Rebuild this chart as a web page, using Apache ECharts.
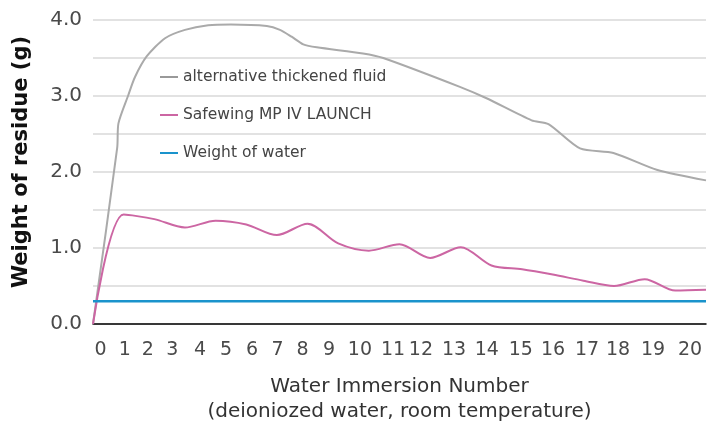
<!DOCTYPE html>
<html>
<head>
<meta charset="utf-8">
<script src="https://cdn.jsdelivr.net/npm/echarts@6/dist/echarts.min.js"></script>
<style>html,body{margin:0;padding:0;background:#fff}#c{width:707px;height:421px}</style>
</head>
<body>
<div id="c"></div>
<script>
// Data
const seriesNames = ['alternative thickened fluid', 'Safewing MP IV LAUNCH', 'Weight of water'];
const altX = [0, 0.79, 0.83, 1.15, 1.37, 1.75, 2.35, 3.0, 3.76, 4.5, 5.67, 6.1, 6.48, 6.86, 7.3, 8.81, 9.47, 11.97, 12.84, 14.31, 14.86, 15.89, 16.98, 18.39, 20];
const altY = [0, 2.32, 2.64, 3.01, 3.25, 3.52, 3.76, 3.87, 3.93, 3.94, 3.92, 3.87, 3.78, 3.68, 3.64, 3.56, 3.50, 3.12, 2.97, 2.68, 2.63, 2.31, 2.25, 2.03, 1.89];
const safeX = [0, 1, 2, 3, 4, 5, 6, 7, 8, 9, 10, 11, 12, 13, 14, 15, 16, 17, 18, 19, 20];
const safeY = [0, 1.44, 1.38, 1.27, 1.36, 1.31, 1.17, 1.32, 1.06, 0.965, 1.05, 0.87, 1.01, 0.77, 0.72, 0.65, 0.57, 0.50, 0.59, 0.44, 0.45];
const waterX = [0, 20];
const waterY = [0.3, 0.3];
const xTickLabels = ['0','1','2','3','4','5','6','7','8','9','10','11','12','13','14','15','16','17','18','19','20'];
const xTickAt = [0.25, 1.04, 1.79, 2.59, 3.49, 4.34, 5.19, 6.02, 6.84, 7.70, 8.71, 9.79, 10.70, 11.78, 12.85, 13.96, 15.01, 16.12, 17.13, 18.27, 19.48];
const yTickLabels = ['0.0', '1.0', '2.0', '3.0', '4.0'];

const pairs = (xs, ys) => xs.map((x, i) => [x, ys[i]]);
const font = 'DejaVu Sans';

const chart = echarts.init(document.getElementById('c'), null, {renderer: 'canvas'});
chart.setOption({
  animation: false,
  backgroundColor: '#fff',
  grid: {left: 93, right: 1, top: 20, bottom: 97, containLabel: false, outerBoundsMode: 'none'},
  legend: {
    orient: 'vertical', left: 155, top: 62, itemGap: 18,
    icon: 'rect', itemWidth: 18, itemHeight: 2,
    textStyle: {fontFamily: font, fontSize: 15.5, color: '#444', lineHeight: 20, height: 20},
    data: seriesNames
  },
  xAxis: {
    type: 'value', min: 0, max: 20,
    name: 'Water Immersion Number\n(deioniozed water, room temperature)',
    nameLocation: 'middle', nameGap: 50,
    nameTextStyle: {fontFamily: font, fontSize: 20, color: '#333', lineHeight: 25},
    axisLine: {show: true, lineStyle: {color: '#000', width: 1.5}},
    axisTick: {show: false},
    splitLine: {show: false},
    axisLabel: {
      customValues: xTickAt,
      formatter: v => {
        let best = 0, d = 1e9;
        xTickAt.forEach((p, i) => { if (Math.abs(p - v) < d) { d = Math.abs(p - v); best = i; } });
        return xTickLabels[best];
      },
      fontFamily: font, fontSize: 19, color: '#4a4a4a', margin: 17
    }
  },
  yAxis: {
    type: 'value', min: 0, max: 4, interval: 0.5,
    name: 'Weight of residue (g)', nameLocation: 'middle', nameGap: 61, nameRotate: 90,
    nameTextStyle: {fontFamily: font, fontSize: 21, fontWeight: 'bold', color: '#111', padding: [0, 0, 0, 20]},
    axisLine: {show: false}, axisTick: {show: false},
    splitLine: {show: true, lineStyle: {color: '#d9d9d9', width: 1.5}},
    axisLabel: {
      fontFamily: font, fontSize: 20, color: '#4a4a4a', margin: 11,
      formatter: v => (Math.abs(v - Math.round(v)) < 1e-9 ? yTickLabels[Math.round(v)] : '')
    }
  },
  series: [
    {name: seriesNames[0], type: 'line', data: pairs(altX, altY), smooth: 0.25, showSymbol: false,
     lineStyle: {color: '#aaaaaa', width: 2}, itemStyle: {color: '#999999'}, z: 2},
    {name: seriesNames[1], type: 'line', data: pairs(safeX, safeY), smooth: 0.3, showSymbol: false,
     lineStyle: {color: '#cc66a3', width: 2}, itemStyle: {color: '#cc66a3'}, z: 3},
    {name: seriesNames[2], type: 'line', data: pairs(waterX, waterY), showSymbol: false,
     lineStyle: {color: '#1a93cc', width: 2.5}, itemStyle: {color: '#1a93cc'}, z: 4}
  ]
});
</script>
</body>
</html>
